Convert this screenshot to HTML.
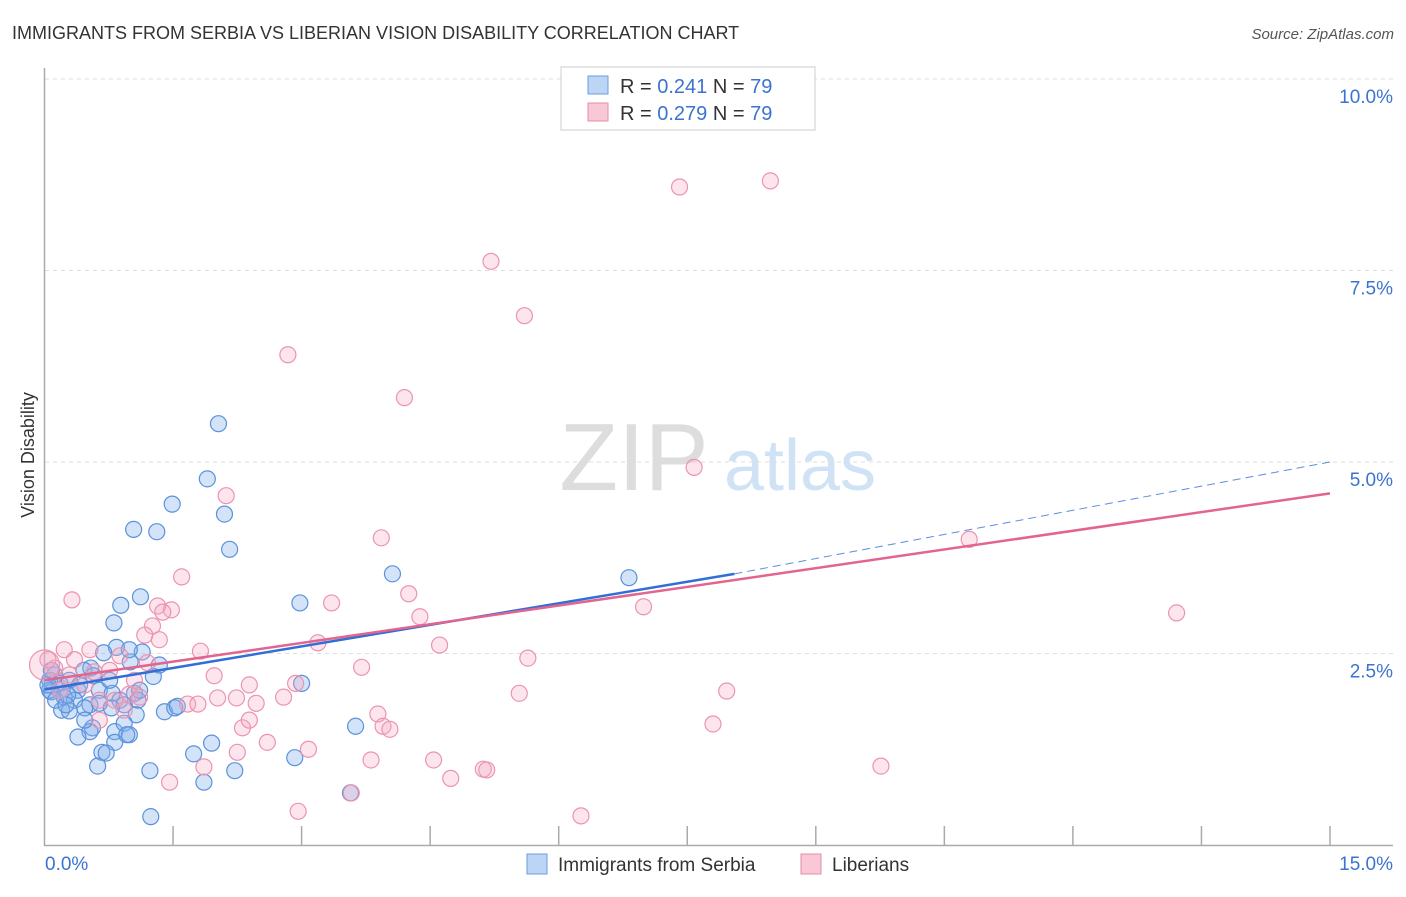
<!DOCTYPE html>
<html><head><meta charset="utf-8"><style>
body{margin:0;background:#fff;font-family:"Liberation Sans",sans-serif}
svg text{font-family:"Liberation Sans",sans-serif}
</style></head><body>
<svg id="chart" width="1406" height="892">
<text x="12" y="39" font-size="18" fill="#333">IMMIGRANTS FROM SERBIA VS LIBERIAN VISION DISABILITY CORRELATION CHART</text>
<text x="1394" y="39" font-size="15" fill="#555" text-anchor="end" font-style="italic">Source: ZipAtlas.com</text>
<text x="34" y="455" font-size="18" fill="#333" text-anchor="middle" transform="rotate(-90 34 455)">Vision Disability</text>
<g><text x="634" y="490" font-size="96" font-family="Liberation Serif" fill="#ddd" text-anchor="middle">ZIP</text><text x="800" y="490" font-size="72" fill="#d0e2f5" text-anchor="middle">atlas</text></g>
<g id="grid"></g><g id="axes"></g><g id="pts"></g><g id="trends"></g>
<g>
<rect x="561" y="67" width="254" height="63" fill="#fff" stroke="#ccc"/>
<rect x="588" y="76" width="20" height="18" fill="#bcd5f5" stroke="#6a9de0"/>
<rect x="588" y="103" width="20" height="18" fill="#f9c8d6" stroke="#e88aa8"/>
<text x="620" y="93" font-size="20" fill="#333">R = <tspan fill="#3b73d1">0.241</tspan>   N = <tspan fill="#3b73d1">79</tspan></text>
<text x="620" y="120" font-size="20" fill="#333">R = <tspan fill="#3b73d1">0.279</tspan>   N = <tspan fill="#3b73d1">79</tspan></text>
</g>
<g>
<rect x="527" y="854" width="20" height="20" fill="#bcd5f5" stroke="#6a9de0"/>
<text x="558" y="871" font-size="19" fill="#333">Immigrants from Serbia</text>
<rect x="801" y="854" width="20" height="20" fill="#f9c8d6" stroke="#e88aa8"/>
<text x="832" y="871" font-size="19" fill="#333">Liberians</text>
</g>
</svg>
<script>
const yTicks=[2.5,5.0,7.5,10.0];
const yTickLabels=["2.5%","5.0%","7.5%","10.0%"];
const xTickCount=10;
const serbiaX=[2.03,1.90,1.49,2.10,1.04,1.31,2.16,4.06,6.82,1.12,0.89,2.98,0.81,0.84,0.69,1.14,1.00,1.27,0.54,0.46,0.12,0.06,0.18,0.29,0.39,0.64,0.79,1.05,0.08,0.23,0.35,0.53,0.64,0.88,0.93,1.09,0.78,0.20,0.29,0.47,1.07,1.40,1.52,1.55,3.00,0.56,0.53,0.82,0.93,0.99,0.39,0.82,0.96,0.67,0.72,1.95,1.74,3.63,2.92,0.62,1.23,2.22,1.86,3.57,1.24,0.06,0.04,0.13,0.27,0.41,0.57,0.76,1.34,0.99,0.08,0.18,0.25,0.47,1.11];
const serbiaY=[5.50,4.78,4.45,4.32,4.12,4.09,3.86,3.54,3.49,3.24,3.13,3.16,2.90,2.58,2.51,2.52,2.39,2.20,2.31,2.28,2.22,2.15,2.11,2.15,2.02,2.02,1.98,1.98,2.00,1.93,1.89,1.83,1.85,1.89,1.83,1.89,1.79,1.76,1.75,1.79,1.70,1.74,1.79,1.81,2.11,1.53,1.48,1.48,1.59,1.44,1.41,1.34,1.44,1.21,1.20,1.33,1.19,1.55,1.14,1.03,0.97,0.97,0.82,0.68,0.37,2.02,2.09,1.89,1.96,2.09,2.21,2.15,2.35,2.55,2.28,2.02,1.83,1.63,2.02];
const liberX=[7.41,8.47,5.21,5.60,2.84,4.20,7.58,2.12,10.79,3.93,1.60,0.32,4.25,6.99,1.32,1.48,1.38,3.35,13.21,4.38,1.26,1.17,3.19,4.61,1.82,5.64,0.88,1.20,3.70,0.76,0.58,0.29,1.98,2.93,2.39,0.12,0.04,0.47,0.99,1.11,2.02,2.24,2.79,5.54,7.96,1.67,1.79,2.47,0.93,3.89,7.80,2.31,3.95,4.03,2.60,2.25,3.08,3.81,4.54,1.86,9.76,5.12,5.16,4.74,1.46,2.96,6.26,3.58,0.18,0.64,0.35,0.53,0.82,1.05,1.34,2.39,0.64,0.23,0.00];
const liberY=[8.59,8.67,7.62,6.91,6.40,5.84,4.93,4.56,3.99,4.01,3.50,3.20,3.28,3.11,3.12,3.07,3.04,3.16,3.03,2.98,2.86,2.74,2.64,2.61,2.53,2.44,2.47,2.38,2.32,2.28,2.26,2.22,2.21,2.11,2.09,2.31,2.42,2.09,1.97,1.93,1.92,1.92,1.93,1.98,2.01,1.84,1.84,1.85,1.76,1.71,1.58,1.53,1.55,1.51,1.34,1.21,1.25,1.11,1.11,1.02,1.03,0.99,0.98,0.87,0.82,0.44,0.38,0.68,2.02,1.89,2.42,2.55,1.89,2.15,2.68,1.63,1.63,2.55,2.35];
const serbiaTrend=[0,2.03,8.05,3.54,15,5.0];
const liberTrend=[0,2.15,15,4.59];
const NS="http://www.w3.org/2000/svg";
const sx=v=>44.5+v/15*1285.5, sy=v=>845-v*76.6;
function mk(t,a,p){const e=document.createElementNS(NS,t);for(const k in a)e.setAttribute(k,a[k]);p.appendChild(e);return e;}
const grid=document.getElementById('grid'),axes=document.getElementById('axes'),pts=document.getElementById('pts'),tr=document.getElementById('trends');
yTicks.forEach((v,i)=>{const l=mk('line',{x1:45,x2:1393,y1:sy(v),y2:sy(v),stroke:'#ddd','stroke-dasharray':'4 4'},grid);

const t=mk('text',{x:1393,y:sy(v)+24,'font-size':19,fill:'#3b73d1','text-anchor':'end'},axes);t.textContent=yTickLabels[i];
});
const ax=mk('path',{d:'M44.5 68V845.5H1393',fill:'none',stroke:'#aaa','stroke-width':1.5},axes);

for(let i=1;i<=xTickCount;i++){const tk=mk('line',{x1:sx(i*1.5),x2:sx(i*1.5),y1:826,y2:845,stroke:'#aaa','stroke-width':1.5},axes);
}
let t0=mk('text',{x:45,y:870,'font-size':19,fill:'#3b73d1'},axes);t0.textContent='0.0%';
let t1=mk('text',{x:1393,y:870,'font-size':19,fill:'#3b73d1','text-anchor':'end'},axes);t1.textContent='15.0%';
serbiaX.forEach((x,i)=>{const c=mk('circle',{cx:sx(x),cy:sy(serbiaY[i]),r:8,fill:'rgba(130,175,235,0.35)',stroke:'#5b91dc','stroke-width':1.2},pts);
});
liberX.forEach((x,i)=>{const c=mk('circle',{cx:sx(x),cy:sy(liberY[i]),r:i==liberX.length-1?15:8,fill:'rgba(245,170,195,0.3)',stroke:'#ec93b0','stroke-width':1.2},pts);
});
let l=mk('line',{x1:sx(serbiaTrend[0]),y1:sy(serbiaTrend[1]),x2:sx(serbiaTrend[2]),y2:sy(serbiaTrend[3]),stroke:'#2f6fd6','stroke-width':2.5},tr);

l=mk('line',{x1:sx(serbiaTrend[2]),y1:sy(serbiaTrend[3]),x2:sx(serbiaTrend[4]),y2:sy(serbiaTrend[5]),stroke:'#5b8fdc','stroke-width':1,'stroke-dasharray':'8 5'},tr);

l=mk('line',{x1:sx(liberTrend[0]),y1:sy(liberTrend[1]),x2:sx(liberTrend[2]),y2:sy(liberTrend[3]),stroke:'#e3648f','stroke-width':2.5},tr);

</script>
</body></html>
